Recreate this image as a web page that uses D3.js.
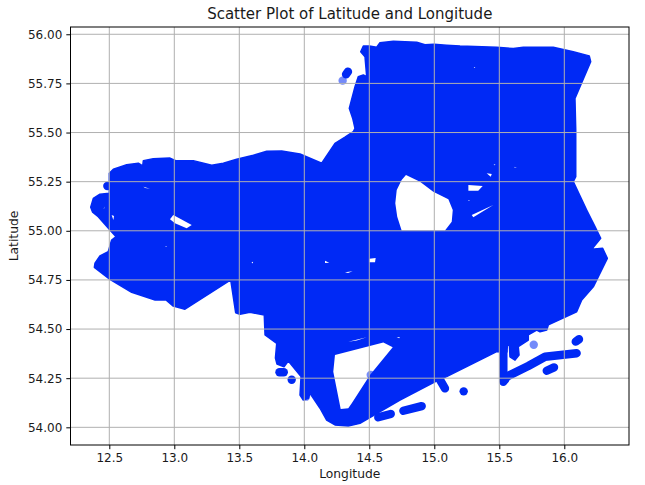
<!DOCTYPE html>
<html>
<head>
<meta charset="utf-8">
<title>Scatter Plot of Latitude and Longitude</title>
<script src="https://cdn.jsdelivr.net/npm/d3@7"></script>
<style>
    body { margin: 0; background: #fff; }
    text { font-family: "DejaVu Sans", sans-serif; fill: #1a1a1a; }
</style>
</head>
<body>
<div id="chart"></div>
<script>
'use strict';
const xTicks = [12.5, 13.0, 13.5, 14.0, 14.5, 15.0, 15.5, 16.0];
const yTicks = [54.0, 54.25, 54.5, 54.75, 55.0, 55.25, 55.5, 55.75, 56.0];

// the points are so dense they merge, so the solid mass is read as [lon, lat] outlines
const coverage = [
    [12.5,55.293],[12.531,55.313],[12.634,55.336],[12.723,55.344],[12.757,55.33],[12.762,55.357],
    [12.838,55.367],[12.967,55.37],[13.011,55.357],[13.146,55.357],[13.288,55.333],[13.377,55.344],
    [13.48,55.364],[13.608,55.384],[13.711,55.405],[13.826,55.406],[13.967,55.391],[14.134,55.344],
    [14.236,55.445],[14.313,55.476],[14.377,55.504],[14.39,55.522],[14.372,55.573],[14.346,55.623],
    [14.39,55.733],[14.415,55.784],[14.454,55.793],[14.48,55.784],[14.467,55.886],[14.434,55.911],
    [14.454,55.94],[14.5,55.94],[14.557,55.934],[14.582,55.957],[14.685,55.964],[14.865,55.959],
    [14.928,55.947],[14.998,55.949],[15.095,55.944],[15.198,55.94],[15.48,55.934],[15.608,55.927],
    [15.685,55.934],[15.915,55.934],[16.069,55.911],[16.192,55.89],[16.203,55.861],[16.082,55.674],
    [16.088,55.513],[16.088,55.275],[16.069,55.25],[16.172,55.106],[16.236,55.021],[16.28,54.962],
    [16.211,54.906],[16.295,54.911],[16.331,54.86],[16.223,54.715],[16.134,54.648],[16.095,54.588],
    [15.877,54.521],[15.865,54.495],[15.813,54.486],[15.788,54.495],[15.723,54.47],[15.723,54.444],
    [15.646,54.41],[15.652,54.368],[15.621,54.342],[15.582,54.359],[15.578,54.414],[15.563,54.424],
    [15.559,54.383],[15.48,54.385],[15.095,54.258],[15.005,54.232],[14.736,54.139],[14.428,54.02],
    [14.338,54.007],[14.236,54.012],[14.172,54.037],[14.121,54.097],[14.044,54.173],[14.031,54.148],
    [13.992,54.139],[13.967,54.164],[13.975,54.258],[13.877,54.337],[13.844,54.308],[13.79,54.322],
    [13.778,54.353],[13.788,54.427],[13.698,54.47],[13.692,54.572],[13.582,54.585],[13.505,54.575],
    [13.472,54.583],[13.434,54.75],[13.082,54.601],[12.992,54.617],[12.936,54.648],[12.852,54.648],
    [12.672,54.687],[12.505,54.753],[12.385,54.814],[12.39,54.835],[12.428,54.872],[12.492,54.894],
    [12.518,54.953],[12.552,54.97],[12.505,55.004],[12.415,55.072],[12.372,55.095],[12.357,55.12],
    [12.377,55.165],[12.428,55.186],[12.5,55.191]
];

// gaps left inside the mass
const gaps = [
    [[14.782,55.284],[14.89,55.25],[14.992,55.199],[15.108,55.16],[15.142,55.106],[15.134,55.046],
     [15.082,55.001],[14.749,55.001],[14.715,55.072],[14.7,55.14],[14.711,55.208],[14.749,55.259]],
    [[14.236,54.368],[14.608,54.431],[14.68,54.407],[14.505,54.266],[14.365,54.122],[14.338,54.097],
     [14.28,54.093],[14.223,54.283]],
    [[12.992,55.08],[13.134,55.03],[13.095,55.013],[13.005,55.038],[12.967,55.059]],
    [[15.262,55.233],[15.372,55.228],[15.338,55.204],[15.262,55.204]],
    [[15.288,55.08],[15.454,55.131],[15.3,55.069]],
    [[15.403,55.293],[15.442,55.289],[15.434,55.275]],
    [[12.518,55.08],[12.536,55.075],[12.531,55.055]],
    [[12.762,55.224],[12.813,55.214],[12.775,55.218]],
    [[14.338,54.435],[14.48,54.458],[14.403,54.442]],
    [[14.159,54.848],[14.192,54.838],[14.159,54.836]],
    [[14.5,54.858],[14.549,54.862],[14.544,54.84],[14.5,54.84]],
    [[14.313,54.789],[14.372,54.794],[14.336,54.785]],
    [[15.304,55.834],[15.316,55.832],[15.308,55.828]],
    [[15.458,55.338],[15.472,55.336],[15.46,55.333]],
    [[15.612,55.326],[15.635,55.32],[15.62,55.321]],
    [[15.26,55.156],[15.275,55.155],[15.265,55.151]],
    [[13.594,54.84],[13.606,54.843],[13.604,54.834]],
    [[14.71,54.46],[14.735,54.458],[14.73,54.453]],
    [[12.456,55.112],[12.466,55.124],[12.46,55.114]],
    [[12.93,54.922],[12.945,54.921],[12.936,54.919]]
];

// short runs of overlapping points outside the mass
const tracks = [
    [[15.531,54.385],[15.531,54.232]],
    [[15.544,54.241],[15.557,54.258],[15.723,54.312],[15.852,54.359],[16.095,54.377]],
    [[16.113,54.448],[16.088,54.436]],
    [[15.921,54.305],[15.865,54.288]],
    [[15.044,54.241],[15.082,54.198]],
    [[14.569,54.051],[14.665,54.068]],
    [[14.762,54.084],[14.903,54.108]],
    [[13.809,54.28],[13.842,54.28]],
    [[14.336,55.81],[14.321,55.796]]
];

// spots where a few points sit on top of each other
const densePoints = [[15.226,54.183],[13.903,54.242],[12.485,55.228]];
// single points, the only ones that show the alpha
const singlePoints = [[14.295,55.764],[15.765,54.42],[14.511,54.266],[14.013,54.156]];

const width = 645, height = 485;
const plot = { left: 70.5, right: 629, top: 27, bottom: 445 };
const pointColor = '#0029f5';

const x = d3.scaleLinear().domain([12.2015, 16.4977]).range([plot.left, plot.right]);
const y = d3.scaleLinear().domain([53.91, 56.037]).range([plot.bottom, plot.top]);

const svg = d3.select('#chart').append('svg')
    .attr('width', width)
    .attr('height', height)
    .style('display', 'block');

const line = d3.line().x(d => x(d[0])).y(d => y(d[1]));

const marks = svg.append('g');

// round joins take the hard corners off, the edge of a point cloud is round
marks.append('path')
    .attr('d', line(coverage) + 'Z')
    .attr('fill', pointColor)
    .attr('stroke', pointColor)
    .attr('stroke-width', 1.5)
    .attr('stroke-linejoin', 'round');

marks.selectAll('path.gap').data(gaps).enter().append('path')
    .attr('class', 'gap')
    .attr('d', d => line(d) + 'Z')
    .attr('fill', '#fff');

marks.selectAll('path.track').data(tracks).enter().append('path')
    .attr('class', 'track')
    .attr('d', line)
    .attr('fill', 'none')
    .attr('stroke', pointColor)
    .attr('stroke-width', 8.4)
    .attr('stroke-linecap', 'round')
    .attr('stroke-linejoin', 'round');

marks.selectAll('circle.dense').data(densePoints).enter().append('circle')
    .attr('class', 'dense')
    .attr('cx', d => x(d[0]))
    .attr('cy', d => y(d[1]))
    .attr('r', 4.2)
    .attr('fill', pointColor);

marks.selectAll('circle.single').data(singlePoints).enter().append('circle')
    .attr('class', 'single')
    .attr('cx', d => x(d[0]))
    .attr('cy', d => y(d[1]))
    .attr('r', 4.2)
    .attr('fill', pointColor)
    .attr('fill-opacity', 0.55);

// grid sits above the points like in the original
const grid = svg.append('g').attr('stroke', '#b0b0b0').attr('stroke-width', 1);
grid.selectAll('line.gx').data(xTicks).enter().append('line')
    .attr('class', 'gx')
    .attr('x1', d => x(d)).attr('x2', d => x(d))
    .attr('y1', plot.top).attr('y2', plot.bottom);
grid.selectAll('line.gy').data(yTicks).enter().append('line')
    .attr('class', 'gy')
    .attr('x1', plot.left).attr('x2', plot.right)
    .attr('y1', d => y(d)).attr('y2', d => y(d));

const xAxis = svg.append('g')
    .attr('transform', 'translate(0,' + plot.bottom + ')')
    .call(d3.axisBottom(x).tickValues(xTicks).tickFormat(d3.format('.1f')).tickSize(4.2).tickPadding(4));
const yAxis = svg.append('g')
    .attr('transform', 'translate(' + plot.left + ',0)')
    .call(d3.axisLeft(y).tickValues(yTicks).tickFormat(d3.format('.2f')).tickSize(4.2).tickPadding(4));

for (let axis of [xAxis, yAxis]) {
    axis.select('.domain').remove();
    axis.selectAll('text').style('font-size', '12px').style('font-family', '"DejaVu Sans", sans-serif');
    axis.selectAll('line').attr('stroke', '#000').attr('stroke-width', 1);
}

svg.append('rect')
    .attr('x', plot.left)
    .attr('y', plot.top)
    .attr('width', plot.right - plot.left)
    .attr('height', plot.bottom - plot.top)
    .attr('fill', 'none')
    .attr('stroke', '#000')
    .attr('stroke-width', 1);

svg.append('text')
    .attr('x', (plot.left + plot.right) / 2)
    .attr('y', 19)
    .attr('text-anchor', 'middle')
    .style('font-size', '15px')
    .text('Scatter Plot of Latitude and Longitude');

svg.append('text')
    .attr('x', (plot.left + plot.right) / 2)
    .attr('y', 478)
    .attr('text-anchor', 'middle')
    .style('font-size', '12.3px')
    .text('Longitude');

svg.append('text')
    .attr('transform', 'translate(18,' + (plot.top + plot.bottom) / 2 + ') rotate(-90)')
    .attr('text-anchor', 'middle')
    .style('font-size', '12.3px')
    .text('Latitude');
</script>
</body>
</html>
